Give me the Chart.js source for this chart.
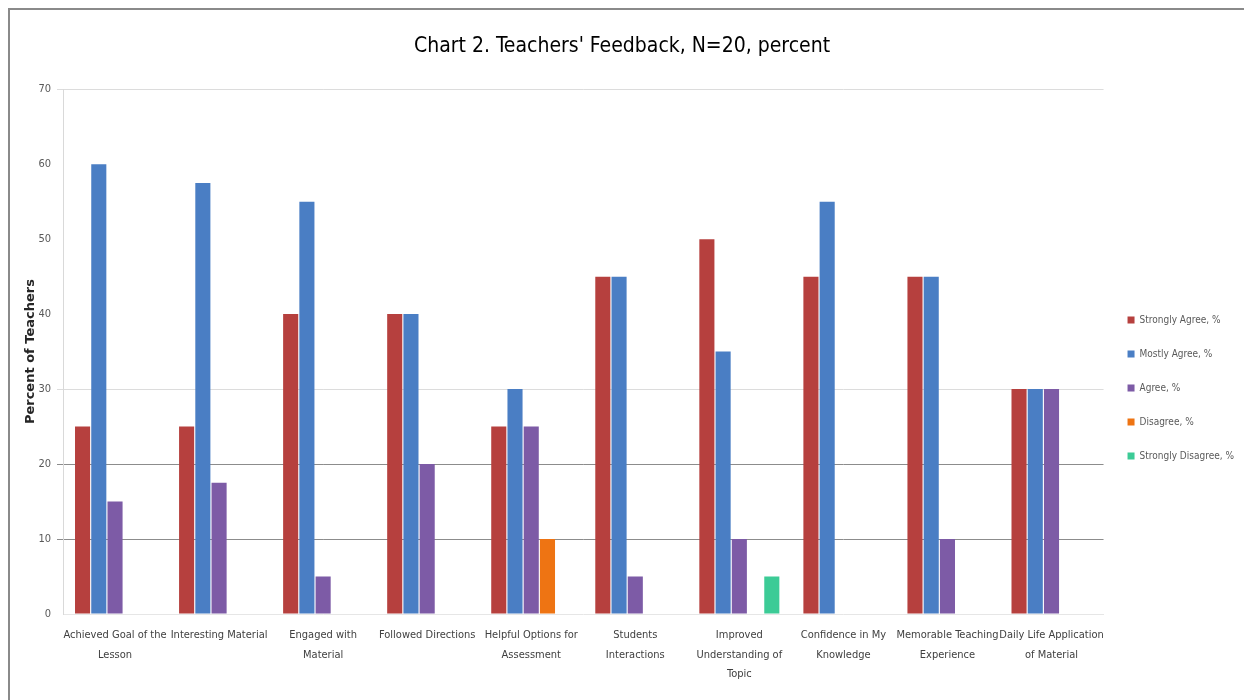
<!DOCTYPE html>
<html>
<head>
<meta charset="utf-8">
<title>Chart 2. Teachers' Feedback</title>
<script src="https://cdn.jsdelivr.net/npm/chart.js@4.4.1/dist/chart.umd.min.js"></script>
<style>
  html, body { margin: 0; padding: 0; background: #fff; overflow: hidden; }
  #wrap { position: absolute; left: 0; top: 0; width: 1244px; height: 700px; }
  #frame {
    position: absolute; left: 8px; top: 8px; width: 1300px; height: 760px;
    border: 2px solid #8a8a8a; box-sizing: border-box; pointer-events: none;
  }
</style>
</head>
<body>
<div id="wrap"><canvas id="chart"></canvas></div>
<div id="frame"></div>
<script>
  // ---- data ----
  var categories = [
    ['Achieved Goal of the', 'Lesson'],
    ['Interesting Material'],
    ['Engaged with', 'Material'],
    ['Followed Directions'],
    ['Helpful Options for', 'Assessment'],
    ['Students', 'Interactions'],
    ['Improved', 'Understanding of', 'Topic'],
    ['Confidence in My', 'Knowledge'],
    ['Memorable Teaching', 'Experience'],
    ['Daily Life Application', 'of Material']
  ];
  var seriesNames = ['Strongly Agree, %', 'Mostly Agree, %', 'Agree, %', 'Disagree, %', 'Strongly Disagree, %'];
  var stronglyAgree    = [25, 25, 40, 40, 25, 45, 50, 45, 45, 30];
  var mostlyAgree      = [60, 57.5, 55, 40, 30, 45, 35, 55, 45, 30];
  var agree            = [15, 17.5, 5, 20, 25, 5, 10, 0, 10, 30];
  var disagree         = [0, 0, 0, 0, 10, 0, 0, 0, 0, 0];
  var stronglyDisagree = [0, 0, 0, 0, 0, 0, 5, 0, 0, 0];
  var yTicks = [0, 10, 20, 30, 40, 50, 60, 70];

  var colors = ['#b6403e', '#4a7ec4', '#7d5ba6', '#ee7413', '#3ccb96'];
  var values = [stronglyAgree, mostlyAgree, agree, disagree, stronglyDisagree];

  var FONT = "'Liberation Sans Narrow', 'DejaVu Sans Condensed', sans-serif";

  var datasets = seriesNames.map(function (name, i) {
    return {
      label: name,
      data: values[i],
      backgroundColor: colors[i],
      borderWidth: 0,
      categoryPercentage: 0.78,
      barPercentage: 0.93
    };
  });

  // gridlines as they appear in the picture: darker at 10 and 20, faint at 30 and 70
  function gridColor(ctx) {
    var v = ctx.tick && ctx.tick.value;
    if (v === 10 || v === 20) return '#8c8c8c';
    if (v === 30 || v === 70) return '#dcdcdc';
    return 'rgba(0,0,0,0)';
  }

  new Chart(document.getElementById('chart'), {
    type: 'bar',
    data: { labels: categories, datasets: datasets },
    options: {
      responsive: true,
      maintainAspectRatio: false,
      animation: false,
      layout: { padding: { left: 0, right: 0, top: 8, bottom: 0 } },
      plugins: {
        title: {
          display: true,
          text: "Chart 2. Teachers' Feedback, N=20, percent",
          color: '#000',
          font: { family: FONT, size: 21, weight: 'normal' },
          padding: { top: 26, bottom: 30 }
        },
        legend: {
          position: 'right',
          align: 'center',
          title: {
            // empty title only used to push the items down to where they sit in the picture
            display: true,
            text: ' ',
            padding: 28,
            font: { size: 10 }
          },
          labels: {
            boxWidth: 7,
            boxHeight: 7,
            padding: 24,
            color: '#595959',
            font: { family: FONT, size: 10 }
          }
        },
        tooltip: { enabled: false }
      },
      scales: {
        x: {
          grid: { display: false, drawTicks: false },
          border: { display: true, color: '#e6e6e6' },
          ticks: {
            color: '#404040',
            font: { family: FONT, size: 11, lineHeight: 1.75 },
            padding: 12,
            maxRotation: 0,
            autoSkip: false
          },
          afterFit: function (scale) { scale.height = 86; }
        },
        y: {
          min: 0,
          max: 70,
          afterBuildTicks: function (scale) {
            scale.ticks = yTicks.map(function (v) { return { value: v }; });
          },
          grid: { color: gridColor, tickLength: 6 },
          border: { display: true, color: '#d9d9d9' },
          ticks: {
            color: '#595959',
            font: { family: FONT, size: 11 },
            padding: 6
          },
          title: {
            display: true,
            text: 'Percent of Teachers',
            color: '#262626',
            font: { family: "'DejaVu Sans', sans-serif", size: 13, weight: 'bold' },
            padding: { top: 23, bottom: 0 }
          },
          afterFit: function (scale) { scale.width = 63; }
        }
      }
    }
  });
</script>
</body>
</html>
